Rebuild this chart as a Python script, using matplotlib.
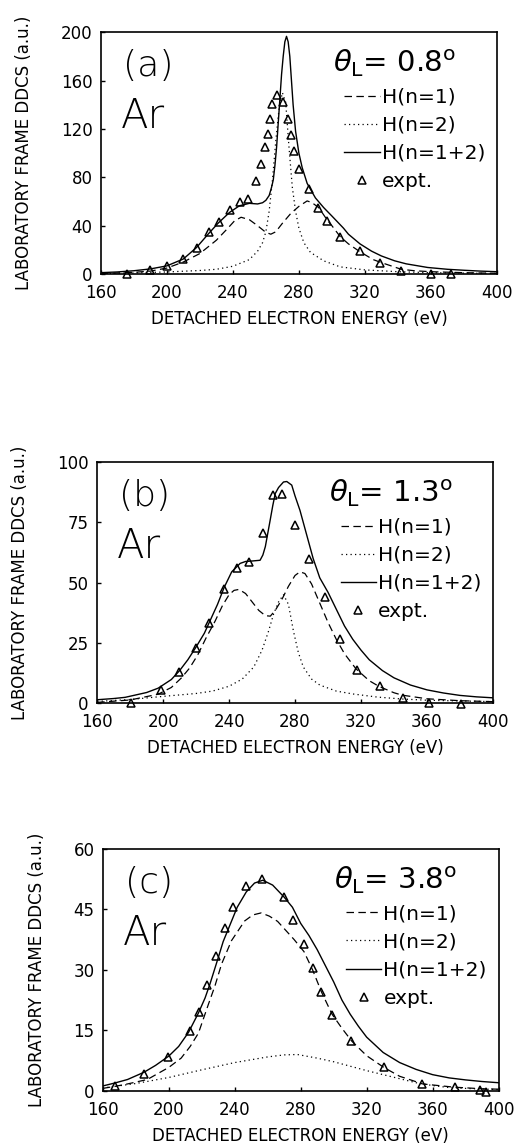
import matplotlib.pyplot as plt

# ---- panel (a), theta_L = 0.8 deg ----
a_exp_e = [176, 190, 200, 210, 218, 225.7, 231.7, 238.5, 244.4, 249.4, 254, 256.8, 259.7, 261, 262.4,
           263.8, 266.8, 270.6, 273.5, 275, 276.8, 280, 286, 291.8, 297, 305, 316.8, 329, 342, 360, 372]
a_exp_v = [0.5, 3.5, 6.6, 12.5, 21.8, 35, 43, 53.4, 59.3, 62.3, 76.6, 91, 104.8, 116, 127.8,
           140.8, 147.7, 142, 128, 115, 102, 87, 70, 55, 44, 30.8, 19, 9, 3, 0.3, -0.3]

a_tot_e = [160, 170, 180, 190, 200, 210, 218, 225, 231, 238, 244, 250, 255, 258, 260, 262, 263.5, 264.5,
           265.5, 266.5, 267.5, 268.5, 269.5, 270.5, 271.5, 272.5, 273.5, 274.5, 275.5, 276.5, 278, 280,
           282, 285, 290, 295, 300, 307, 310, 317, 324, 330, 338, 345, 358, 370, 380, 390, 400]
a_tot_v = [1.2, 1.8, 2.8, 4.3, 6.8, 12.5, 22, 33, 42, 51, 56.5, 58.5, 58, 59, 61, 65, 72, 78,
           90, 105, 125, 145, 165, 180, 192, 196.5, 192, 180, 160, 140, 118, 100,
           88, 75, 63, 55, 48, 38, 33, 25, 19, 15, 11, 8.5, 5.5, 4, 3.2, 2.5, 2]

a_n1_e = [160, 180, 190, 200, 210, 220, 230, 237, 241, 245, 250, 255, 260, 263, 266, 270, 275, 280, 285,
          288, 292, 297, 300, 305, 310, 317, 325, 330, 342, 350, 360, 380, 400]
a_n1_v = [0.5, 1.5, 2.5, 5, 10, 17, 28, 38, 44, 47, 45, 40, 34.5, 33, 35, 42, 50, 56, 60.5,
          59, 55, 45, 40, 31, 25, 18.5, 12, 9.5, 4, 2.8, 2, 1.2, 0.7]

a_n2_e = [160, 180, 200, 220, 230, 240, 250, 255, 258, 260, 262, 264, 266, 268, 270, 272, 274, 276,
          278, 280, 283, 287, 295, 305, 320, 340, 360, 400]
a_n2_v = [0.5, 1, 1.8, 3, 4, 6.5, 12, 19, 26, 35, 52, 78, 110, 137, 150, 142, 105, 72,
          52, 38, 26, 18, 11, 6, 3.5, 2, 1.2, 0.5]

# ---- panel (b), theta_L = 1.3 deg ----
b_exp_e = [180.4, 198.5, 209.7, 220.1, 228.1, 236.8, 244.8, 251.9, 260.7, 266.6, 272.1, 280, 288.5,
           298, 307.5, 317.8, 331.3, 345.5, 361.2, 380.6]
b_exp_v = [0.2, 5.6, 12.8, 23, 33.3, 47.5, 56.1, 58.6, 70.5, 86.5, 86.7, 73.9, 60,
           43.9, 26.8, 13.9, 6.9, 2.1, 0, -0.5]

b_tot_e = [160, 170, 177, 190, 197, 205, 210, 215, 220, 225, 228, 233, 237, 241.6, 246.7, 250, 254,
           258.8, 260.5, 262, 264.8, 266.5, 268, 270, 273, 275, 278, 280, 283, 287, 291, 295, 300,
           305, 310, 315, 320, 325, 333, 340, 350, 360, 370, 380, 390, 400]
b_tot_v = [1.4, 1.9, 2.4, 4.4, 6.2, 9.8, 13.5, 18, 23.3, 29, 33.5, 41, 48, 54.5, 58, 58.8, 59,
           59.3, 61.5, 65, 75.5, 82, 87, 89.5, 91.8, 92, 90.5, 86, 80, 70, 60, 52, 46,
           39, 32, 26.5, 22, 18, 13.5, 10.5, 7.5, 5.5, 4.2, 3.2, 2.6, 2.2]

b_n1_e = [160, 180, 197, 205, 211, 216, 221, 226, 231.5, 236, 240, 243, 246, 250, 254, 258, 262, 265,
          268, 272, 276, 280, 283, 286, 290, 295, 300, 305, 310, 317, 325, 331, 340, 345, 360, 380, 400]
b_n1_v = [0.3, 1.3, 3.7, 6.5, 10.4, 14.5, 20, 27, 34, 40.5, 45, 46.8, 47.2, 45.5, 42, 38.5, 36.3, 36.1,
          38.5, 43, 48.5, 53, 54.5, 53.8, 49.5, 41.5, 33.5, 26.5, 20.5, 14.2, 9.3, 6.9, 4.3, 3.3, 1.8, 1, 0.6]

b_n2_e = [160, 180, 200, 220, 230, 240, 248, 255, 260, 264, 267, 270, 273, 276, 279, 282, 285, 290,
          295, 305, 315, 330, 345, 360, 400]
b_n2_v = [0.7, 1.5, 2.8, 4, 5, 7, 10, 15, 22, 30, 37, 42, 45, 41, 30, 21, 15, 10,
          7.5, 5, 3.8, 2.5, 1.7, 1.2, 0.6]

# ---- panel (c), theta_L = 3.8 deg ----
c_exp_e = [167.5, 184.8, 199.6, 212.9, 218.5, 223.4, 228.4, 234, 239, 246.8, 256.7, 269.8, 275.5,
           282, 287.2, 292.6, 298.9, 310.8, 330.4, 353.8, 373.4, 388.5, 392.5]
c_exp_v = [1.1, 4.2, 8.5, 14.8, 19.6, 26.2, 33.5, 40.3, 45.5, 50.8, 52.4, 48, 42.4,
           36.3, 30.4, 24.5, 18.9, 12.3, 5.8, 1.7, 0.9, 0.1, -0.2]

c_tot_e = [160, 167, 175, 185, 192, 200, 206, 212, 218, 222, 225, 230, 233, 236.5, 241.5, 247, 252,
           257, 263, 270, 275, 280, 285, 290, 295, 300, 305, 310, 315, 320, 330, 340, 350, 360, 370,
           380, 390, 400]
c_tot_v = [1.2, 1.9, 2.8, 4.6, 6.3, 8.6, 11, 14.5, 19.3, 23, 26.5, 33, 37, 40.5, 45.5, 49.3, 51.5,
           52.2, 51, 48, 45.5, 41.5, 38.5, 35, 31, 27, 22.5, 19, 16, 13.3, 9.5, 7, 5.3, 4, 3.2,
           2.7, 2.3, 2]

c_n1_e = [160, 167.5, 175, 187, 200, 207.5, 213, 218, 224, 228, 232, 238, 246, 251, 256, 261, 266,
          270, 276, 282, 287.2, 292.6, 299, 305, 311, 320, 330.4, 340, 354, 373, 390, 400]
c_n1_v = [0.6, 1.1, 1.7, 2.8, 5.8, 8.1, 11, 14.3, 21.4, 26, 31.4, 37.2, 42.1, 43.6, 44.1, 43.3, 42,
          40.2, 37.5, 34.5, 30, 24.5, 19, 15.5, 12.3, 8.7, 5.8, 3.6, 1.7, 0.9, 0.5, 0.4]

c_n2_e = [160, 180, 200, 220, 240, 260, 270, 278, 290, 300, 310, 320, 330, 340, 350, 360, 370, 385, 400]
c_n2_v = [0.7, 1.8, 3.3, 5.2, 7, 8.4, 8.9, 9, 8.1, 7.2, 6.1, 5, 4, 3, 2, 1.3, 0.8, 0.5, 0.3]

panels = [
    dict(tag='(a)', angle='0.8', ymax=200, ystep=40, rect=[0.196, 0.761, 0.771, 0.211],
         exp=(a_exp_e, a_exp_v), tot=(a_tot_e, a_tot_v), n1=(a_n1_e, a_n1_v), n2=(a_n2_e, a_n2_v)),
    dict(tag='(b)', angle='1.3', ymax=100, ystep=25, rect=[0.189, 0.387, 0.770, 0.210],
         exp=(b_exp_e, b_exp_v), tot=(b_tot_e, b_tot_v), n1=(b_n1_e, b_n1_v), n2=(b_n2_e, b_n2_v)),
    dict(tag='(c)', angle='3.8', ymax=60, ystep=15, rect=[0.200, 0.049, 0.770, 0.211],
         exp=(c_exp_e, c_exp_v), tot=(c_tot_e, c_tot_v), n1=(c_n1_e, c_n1_v), n2=(c_n2_e, c_n2_v)),
]

fig = plt.figure(figsize=(5.14, 11.47), dpi=100)

for p in panels:
    ax = fig.add_axes(p['rect'])
    ax.plot(*p['n1'], color='black', lw=0.9, dashes=(6, 3.5), label='H(n=1)')
    ax.plot(*p['n2'], color='black', lw=0.9, dashes=(1, 2.6), label='H(n=2)')
    ax.plot(*p['tot'], color='black', lw=1.0, label='H(n=1+2)')
    ax.plot(*p['exp'], ls='none', marker='^', ms=6, mfc='none', mec='black', mew=1.1,
            clip_on=False, label='expt.')

    ax.set_xlim(160, 400)
    ax.set_ylim(0, p['ymax'])
    ax.set_xticks(range(160, 401, 40))
    ax.set_yticks(range(0, p['ymax'] + 1, p['ystep']))
    ax.tick_params(direction='in', length=3, width=1, labelsize=12)
    ax.tick_params(axis='x', pad=7)
    ax.tick_params(axis='y', pad=6)
    for s in ax.spines.values():
        s.set_linewidth(1.2)
    ax.set_xlabel('DETACHED ELECTRON ENERGY (eV)', fontsize=12, labelpad=6)
    ax.set_ylabel('LABORATORY FRAME DDCS (a.u.)', fontsize=12, labelpad=20)

    ax.text(0.055, 0.86, p['tag'], transform=ax.transAxes, fontsize=26, va='center', ha='left',
            fontweight='light')
    ax.text(0.05, 0.65, 'Ar', transform=ax.transAxes, fontsize=29, va='center', ha='left',
            fontweight='light')
    ax.text(0.585, 0.87, r'$\theta_{\rm L}$= ' + p['angle'] + r'$^{\rm o}$', transform=ax.transAxes,
            fontsize=21, va='center', ha='left')

    ax.legend(loc='upper left', bbox_to_anchor=(0.615, 0.77), frameon=False, fontsize=14.5,
              handlelength=1.75, handletextpad=0.1, labelspacing=0.45, borderpad=0,
              borderaxespad=0, numpoints=1)

fig.savefig('out.png', dpi=100)
